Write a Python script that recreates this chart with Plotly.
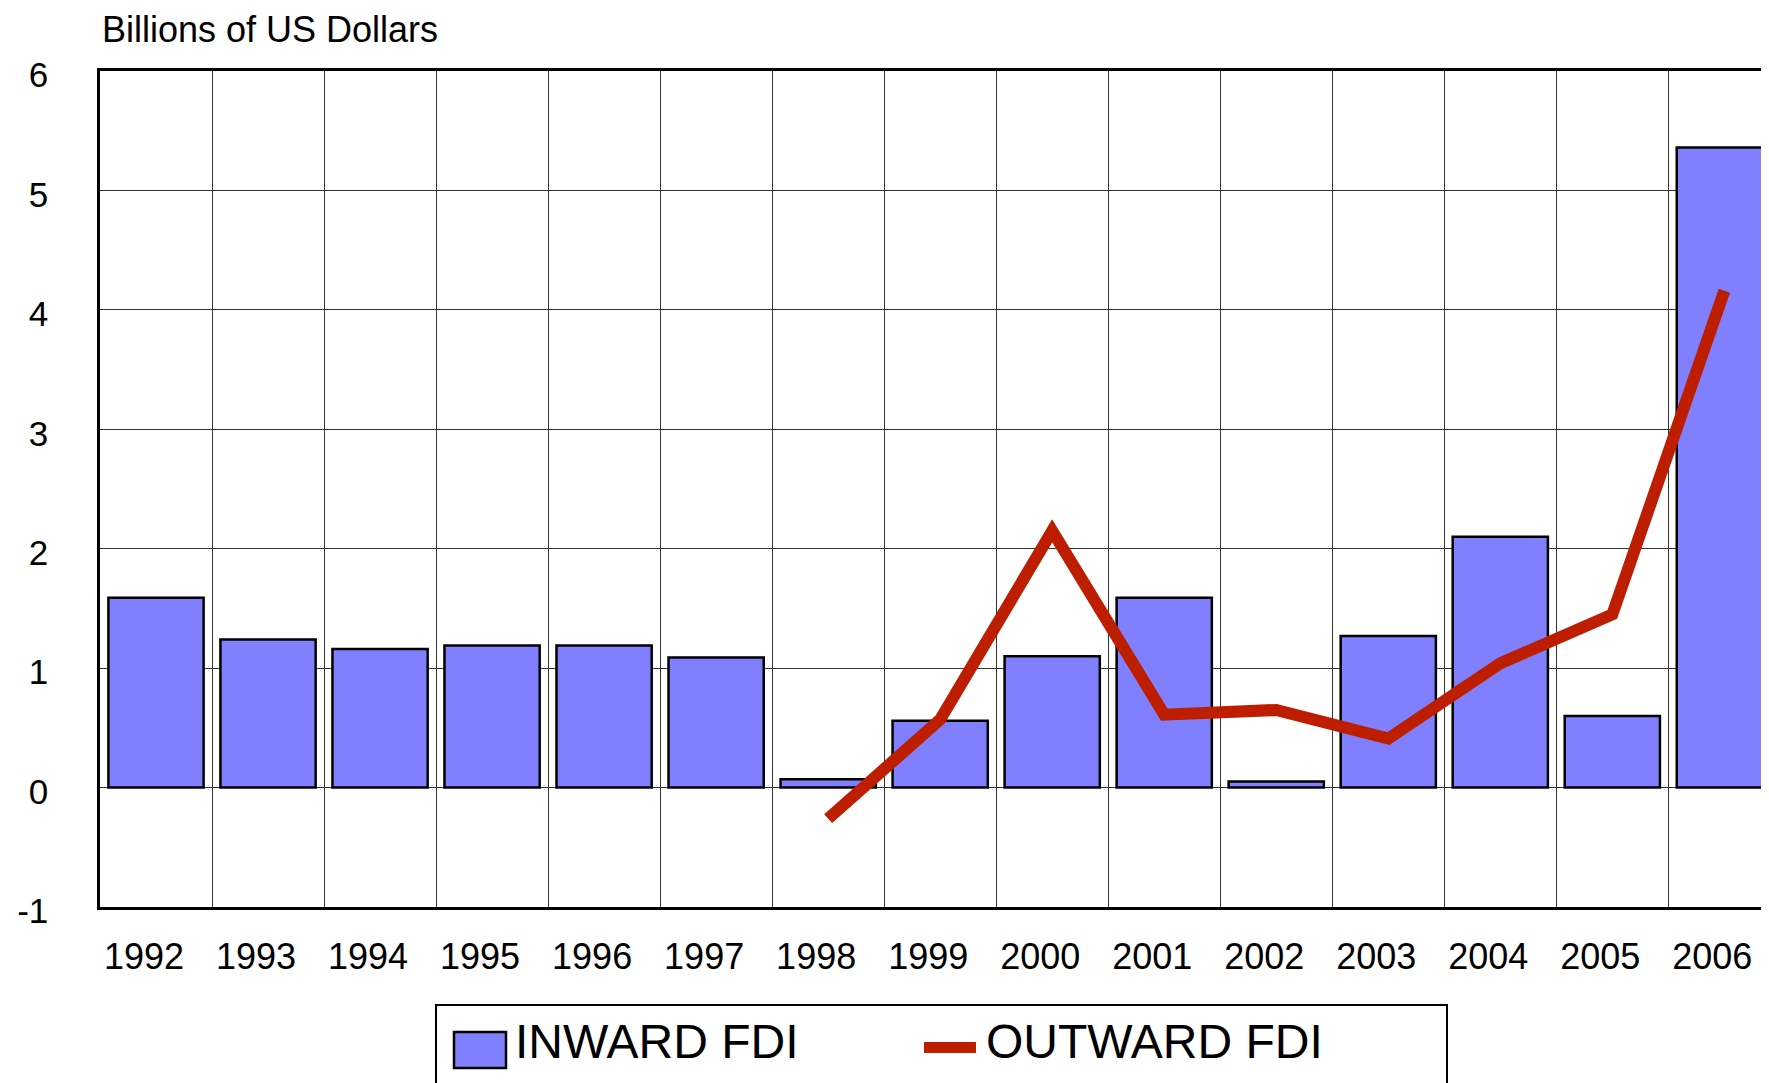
import plotly.graph_objects as go

years = ["1992", "1993", "1994", "1995", "1996", "1997", "1998", "1999",
         "2000", "2001", "2002", "2003", "2004", "2005", "2006"]
inward_fdi = [1.59, 1.24, 1.16, 1.19, 1.19, 1.09, 0.07, 0.56,
              1.10, 1.59, 0.05, 1.27, 2.10, 0.60, 5.36]
outward_years = ["1998", "1999", "2000", "2001", "2002", "2003", "2004", "2005", "2006"]
outward_fdi = [-0.26, 0.57, 2.15, 0.61, 0.65, 0.41, 1.04, 1.45, 4.16]
y_ticks = [-1, 0, 1, 2, 3, 4, 5, 6]
y_tick_text = ["-1", "0", "1", "2", "3", "4", "5", "6"]

W, H = 1769, 1083
L, T, R, B = 92, 63, 0, 184
PW, PH = W - L - R, H - T - B

def px(x):
    return (x - L) / PW

def py(y):
    return (H - B - y) / PH

FONT = "Liberation Sans, Arial, sans-serif"
BAR_COLOR = "#8080FF"
LINE_COLOR = "#BE1E00"

fig = go.Figure()
fig.add_trace(go.Bar(
    x=years, y=inward_fdi, name="INWARD FDI",
    marker=dict(color=BAR_COLOR, line=dict(color="black", width=2.5)),
    width=0.85,
))
fig.add_trace(go.Scatter(
    x=outward_years, y=outward_fdi, name="OUTWARD FDI", mode="lines",
    line=dict(color=LINE_COLOR, width=12),
))

fig.update_layout(
    width=W, height=H,
    margin=dict(l=L, r=R, t=T, b=B),
    plot_bgcolor="white", paper_bgcolor="white",
    showlegend=False,
    font=dict(family=FONT, color="black", size=32),
)
fig.update_xaxes(
    type="category", categoryorder="array", categoryarray=years,
    range=[-0.5, 14.47],
    tickson="boundaries", ticks="", showgrid=True,
    gridcolor="#333333", gridwidth=1,
    showline=True, linecolor="black", linewidth=2.5, mirror=True,
    tickfont=dict(size=36, family=FONT), ticklabelstandoff=16,
    ticklabelshift=-12,
)
fig.update_yaxes(
    range=[-1, 6], tickvals=y_ticks, ticktext=y_tick_text, ticks="",
    showgrid=True, gridcolor="#333333", gridwidth=1, zeroline=False,
    showline=True, linecolor="black", linewidth=2.5, mirror=False,
    tickfont=dict(size=35, family=FONT), ticklabelstandoff=42,
    ticklabelshift=4,
)

# y-axis title text at top-left
fig.add_annotation(
    text="Billions of US Dollars", xref="paper", yref="paper",
    x=px(92), y=py(22), xanchor="left", yanchor="middle",
    showarrow=False, font=dict(size=36, family=FONT, color="black"),
)

# custom legend
shapes = [
    dict(type="rect", xref="paper", yref="paper",
         x0=px(428), x1=px(1439), y0=py(1090), y1=py(997),
         line=dict(color="black", width=2), fillcolor="white"),
    dict(type="rect", xref="paper", yref="paper",
         x0=px(446), x1=px(498), y0=py(1060), y1=py(1024),
         line=dict(color="black", width=2.5), fillcolor=BAR_COLOR),
    dict(type="rect", xref="paper", yref="paper",
         x0=px(916), x1=px(968), y0=py(1045), y1=py(1034),
         line=dict(width=0), fillcolor=LINE_COLOR),
]
for s in shapes:
    fig.add_shape(**s)
fig.add_annotation(text="INWARD FDI", xref="paper", yref="paper",
                   x=px(505), y=py(1033), xanchor="left", yanchor="middle",
                   showarrow=False, font=dict(size=48, family=FONT, color="black"))
fig.add_annotation(text="OUTWARD FDI", xref="paper", yref="paper",
                   x=px(976), y=py(1033), xanchor="left", yanchor="middle",
                   showarrow=False, font=dict(size=48, family=FONT, color="black"))

fig.write_html("out.html")
